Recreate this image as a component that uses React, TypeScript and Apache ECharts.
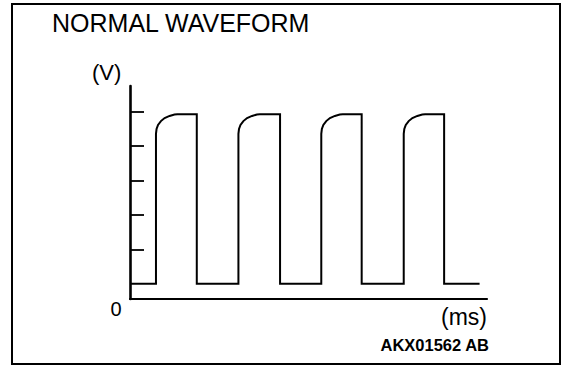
import React, { useEffect, useRef } from "react";
import * as echarts from "echarts";

// Waveform points: [time (ms, arbitrary units), voltage level (arbitrary units)]
const waveform: [number, number][] = [
  [0, 0], [3.15, 0],
  [3.15, 4.36], [3.22, 4.5], [3.4, 4.62], [3.75, 4.73], [4.2, 4.82], [4.8, 4.88], [5.4, 4.92], [5.75, 4.93],
  [8.1, 4.93], [8.1, 0],
  [13.15, 0],
  [13.15, 4.36], [13.22, 4.5], [13.4, 4.62], [13.75, 4.73], [14.2, 4.82], [14.8, 4.88], [15.4, 4.92], [15.75, 4.93],
  [18.2, 4.93], [18.2, 0],
  [23.2, 0],
  [23.2, 4.36], [23.27, 4.5], [23.45, 4.62], [23.8, 4.73], [24.25, 4.82], [24.85, 4.88], [25.45, 4.92], [25.8, 4.93],
  [28.1, 4.93], [28.1, 0],
  [33.2, 0],
  [33.2, 4.36], [33.27, 4.5], [33.45, 4.62], [33.8, 4.73], [34.25, 4.82], [34.85, 4.88], [35.45, 4.92], [35.8, 4.93],
  [38.1, 4.93], [38.1, 0],
  [42.4, 0],
];

const yTickValues = [1, 2, 3, 4, 5];
const yMin = -0.44;
const yMax = 5.75;
const xMin = 0;
const xMax = 43.3;

const titleText = "NORMAL WAVEFORM";
const yUnit = "(V)";
const xUnit = "(ms)";
const originLabel = "0";
const codeText = "AKX01562 AB";

const FONT = "'Liberation Sans', Arial, sans-serif";

export default function App() {
  const ref = useRef<HTMLDivElement>(null);
  useEffect(() => {
    document.body.style.margin = "0";
    if (!ref.current) return;
    const chart = echarts.init(ref.current, undefined, { renderer: "svg" });
    chart.setOption({
      animation: false,
      backgroundColor: "#ffffff",
      grid: { left: 130, right: 89, top: 86, bottom: 79, containLabel: false },
      xAxis: {
        type: "value",
        min: xMin,
        max: xMax,
        axisLine: { show: true, onZero: false, lineStyle: { color: "#000", width: 2.2 } },
        axisTick: { show: false },
        axisLabel: { show: false },
        splitLine: { show: false },
      },
      yAxis: {
        type: "value",
        min: yMin,
        max: yMax,
        axisLine: { show: true, onZero: false, lineStyle: { color: "#000", width: 2.6 } },
        axisTick: {
          show: true,
          inside: true,
          length: 14,
          customValues: yTickValues,
          lineStyle: { color: "#000", width: 1.8 },
        },
        axisLabel: { show: false, customValues: yTickValues },
        splitLine: { show: false },
      },
      series: [
        {
          type: "line",
          data: waveform,
          showSymbol: false,
          symbol: "none",
          smooth: false,
          lineStyle: { color: "#000", width: 2, join: "miter" },
          silent: true,
        },
      ],
      graphic: [
        {
          type: "rect",
          shape: { x: 12, y: 4, width: 548, height: 360 },
          style: { fill: "none", stroke: "#000", lineWidth: 2 },
          silent: true,
        },
        {
          type: "text",
          x: 52,
          y: 23,
          style: { text: titleText, font: `25px ${FONT}`, fill: "#000", align: "left", verticalAlign: "middle" },
        },
        {
          type: "text",
          x: 92,
          y: 72,
          style: { text: yUnit, font: `22px ${FONT}`, fill: "#000", align: "left", verticalAlign: "middle" },
        },
        {
          type: "text",
          x: 116,
          y: 308.5,
          style: { text: originLabel, font: `20px ${FONT}`, fill: "#000", align: "center", verticalAlign: "middle" },
        },
        {
          type: "text",
          x: 487,
          y: 317,
          style: { text: xUnit, font: `23px ${FONT}`, fill: "#000", align: "right", verticalAlign: "middle" },
        },
        {
          type: "text",
          x: 489,
          y: 345,
          style: { text: codeText, font: `bold 16.5px ${FONT}`, fill: "#000", align: "right", verticalAlign: "middle" },
        },
      ],
    });
    return () => chart.dispose();
  }, []);
  return <div ref={ref} style={{ width: 576, height: 378 }} />;
}
